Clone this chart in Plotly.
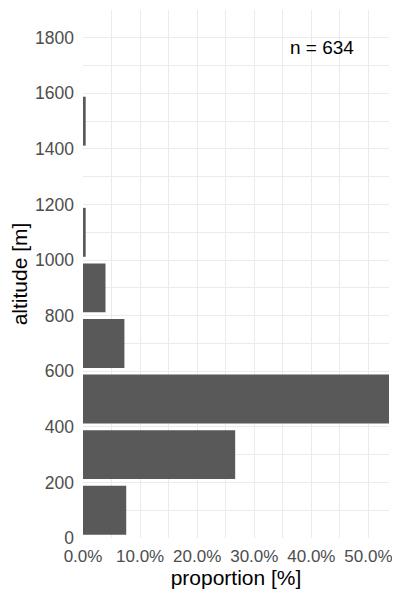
import plotly.graph_objects as go

# altitude bins (midpoints, m) and number of records per bin
bin_mid = [100, 300, 500, 700, 900, 1100, 1300, 1500]
counts = [48, 169, 340, 46, 25, 3, 0, 3]
n_total = 634

proportion = [c / n_total for c in counts]

fig = go.Figure(
    go.Bar(
        x=proportion,
        y=bin_mid,
        orientation="h",
        marker=dict(color="#595959", line=dict(width=0)),
        hoverinfo="x+y",
    )
)

grid = "#EBEBEB"
# page body adds 8px, so the figure is 8px smaller than the window
fig.update_layout(
    width=392,
    height=592,
    margin=dict(l=75, r=11, t=2, b=62),
    plot_bgcolor="white",
    paper_bgcolor="white",
    bargap=0.12,
    showlegend=False,
    font=dict(family="Liberation Sans, Arial, sans-serif"),
)
fig.update_xaxes(
    range=[0, 0.536],
    tickvals=[0, 0.1, 0.2, 0.3, 0.4, 0.5],
    tickformat=".1%",
    tickfont=dict(size=17, color="#4D4D4D"),
    showgrid=True,
    gridcolor=grid,
    gridwidth=1.2,
    minor=dict(tickvals=[0.05, 0.15, 0.25, 0.35, 0.45], showgrid=True, gridcolor=grid, gridwidth=0.6),
    zeroline=False,
    showline=False,
    ticks="",
    ticklabelstandoff=6,
    automargin=False,
    title=dict(text="proportion [%]", font=dict(size=21, color="black"), standoff=0),
)
fig.update_yaxes(
    range=[0, 1900],
    tickvals=list(range(0, 2000, 200)),
    tickfont=dict(size=17.5, color="#4D4D4D"),
    showgrid=True,
    gridcolor=grid,
    gridwidth=1.2,
    minor=dict(tickvals=list(range(100, 1900, 200)), showgrid=True, gridcolor=grid, gridwidth=0.6),
    zeroline=False,
    showline=False,
    ticks="",
    ticklabelstandoff=8,
    automargin=False,
    title=dict(text="altitude [m]", font=dict(size=21, color="black"), standoff=4),
)
fig.add_annotation(
    x=0.418, y=1765, text="n = 634", showarrow=False,
    font=dict(size=19, color="black"), xanchor="center", yanchor="middle",
)

fig.write_html("out.html")
